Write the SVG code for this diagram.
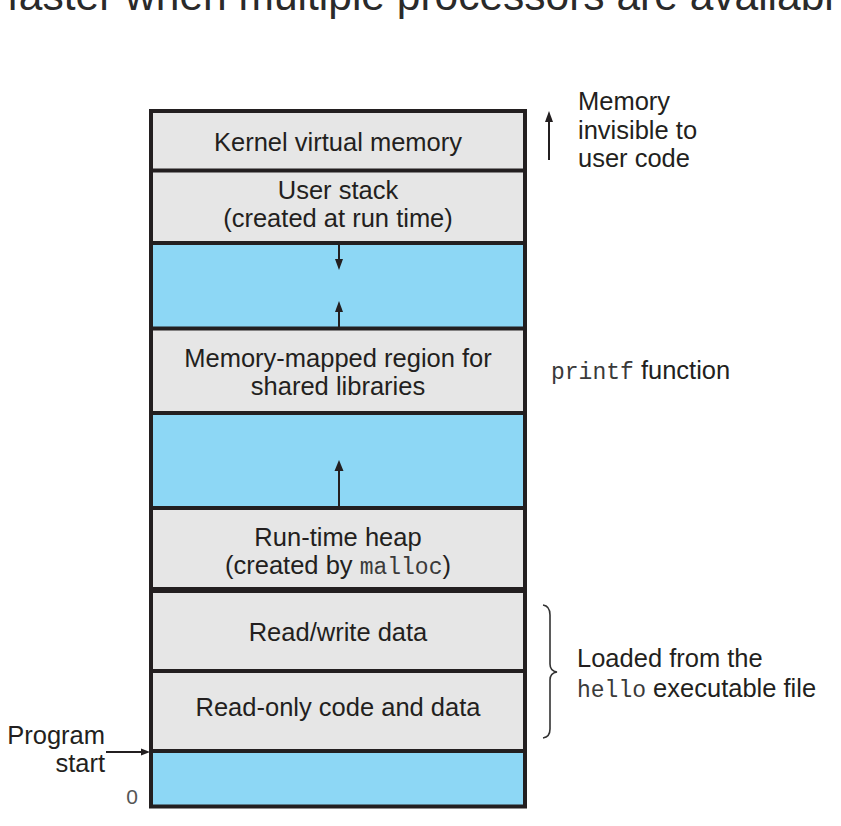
<svg xmlns="http://www.w3.org/2000/svg" width="841" height="826" viewBox="0 0 841 826">
<defs>
<style>
.t{font-family:"Liberation Sans",Arial,sans-serif;font-size:25.5px;fill:#231f20}
.c{text-anchor:middle}
.m{font-family:"Liberation Mono","Courier New",monospace;font-size:23px;fill:#3a3a3a}
.gray{fill:#e6e6e6}
.blue{fill:#8dd7f5}
.div{stroke:#231f20;stroke-width:4;fill:none}
.ln{stroke:#231f20;stroke-width:2;fill:none}
.hd{fill:#231f20}
</style>
</defs>
<rect width="841" height="826" fill="#ffffff"/>
<text x="7" y="10" style="font-family:'Liberation Sans',Arial,sans-serif;font-size:42.5px;fill:#2a2a2a">faster when multiple processors are availabl</text>

<g id="kernel">
<rect class="gray" x="151" y="111" width="374" height="59.5"/>
<text class="t c" x="338" y="151">Kernel virtual memory</text>
</g>
<g id="user-stack">
<rect class="gray" x="151" y="170.5" width="374" height="72.5"/>
<text class="t c" x="338" y="199">User stack</text>
<text class="t c" x="338" y="227">(created at run time)</text>
</g>
<g id="gap1"><rect class="blue" x="151" y="243" width="374" height="85.5"/></g>
<g id="mmap">
<rect class="gray" x="151" y="328.5" width="374" height="84.5"/>
<text class="t c" x="338" y="367">Memory-mapped region for</text>
<text class="t c" x="338" y="395">shared libraries</text>
</g>
<g id="gap2"><rect class="blue" x="151" y="413" width="374" height="95"/></g>
<g id="heap">
<rect class="gray" x="151" y="508" width="374" height="82"/>
<text class="t c" x="338" y="546">Run-time heap</text>
<text class="t c" x="338" y="574">(created by <tspan class="m">malloc</tspan>)</text>
</g>
<g id="rw-data">
<rect class="gray" x="151" y="590" width="374" height="81"/>
<text class="t c" x="338" y="641">Read/write data</text>
</g>
<g id="ro-data">
<rect class="gray" x="151" y="671" width="374" height="80"/>
<text class="t c" x="338" y="716">Read-only code and data</text>
</g>
<g id="bottom"><rect class="blue" x="151" y="751" width="374" height="55.5"/></g>

<g id="frame">
<rect class="div" x="151" y="111" width="374" height="695.5"/>
<line class="div" x1="151" y1="170.5" x2="525" y2="170.5"/>
<line class="div" x1="151" y1="243" x2="525" y2="243"/>
<line class="div" x1="151" y1="328.5" x2="525" y2="328.5"/>
<line class="div" x1="151" y1="413" x2="525" y2="413"/>
<line class="div" x1="151" y1="508" x2="525" y2="508"/>
<line x1="151" y1="590" x2="525" y2="590" stroke="#231f20" stroke-width="6"/>
<line class="div" x1="151" y1="671" x2="525" y2="671"/>
<line class="div" x1="151" y1="751" x2="525" y2="751"/>
</g>

<g id="connectors">
<line class="ln" x1="339" y1="245" x2="339" y2="262"/>
<polygon class="hd" points="335,259 343,259 339,270"/>
<line class="ln" x1="339" y1="327" x2="339" y2="309"/>
<polygon class="hd" points="335,312 343,312 339,301"/>
<line class="ln" x1="339" y1="506" x2="339" y2="468"/>
<polygon class="hd" points="334.5,471 343.5,471 339,460"/>
<line class="ln" x1="549" y1="160" x2="549" y2="118"/>
<polygon class="hd" points="545,122 553,122 549,111"/>
<line class="ln" x1="106" y1="752" x2="143" y2="752"/>
<polygon class="hd" points="141,748.5 141,755.5 150,752"/>
<path d="M543,605 Q550,606 550,615 L550,664 Q550,671 557,672 Q550,673 550,680 L550,729 Q550,737 543,738" stroke="#333" stroke-width="1.6" fill="none"/>
</g>

<g id="labels">
<text class="t" x="578" y="110">Memory</text>
<text class="t" x="578" y="139">invisible to</text>
<text class="t" x="578" y="167">user code</text>
<text class="t" x="551" y="379"><tspan class="m">printf</tspan> function</text>
<text class="t" x="577" y="667">Loaded from the</text>
<text class="t" x="577" y="697"><tspan class="m">hello</tspan> executable file</text>
<text class="t" x="105" y="744" text-anchor="end">Program</text>
<text class="t" x="105" y="772" text-anchor="end">start</text>
<text x="138" y="804" text-anchor="end" style="font-family:'Liberation Sans',Arial,sans-serif;font-size:21px;fill:#555">0</text>
</g>
</svg>
